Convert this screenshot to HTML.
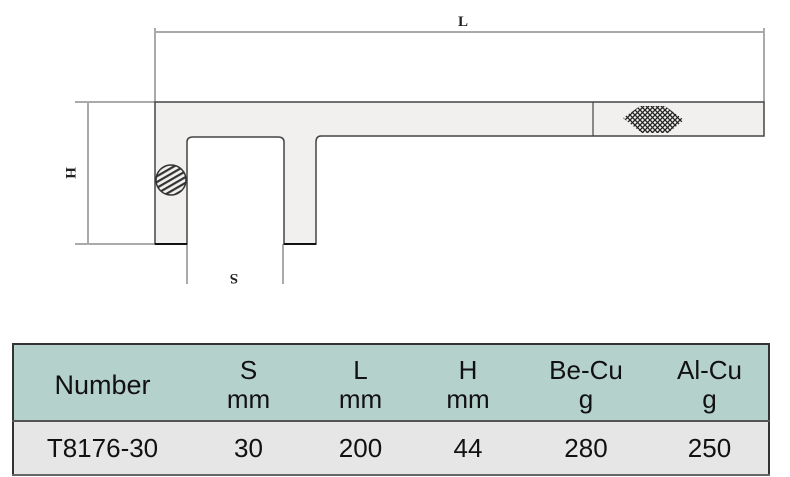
<!DOCTYPE html>
<html><head><style>
body{margin:0;background:#fff;width:790px;height:477px;overflow:hidden;font-family:"Liberation Sans",sans-serif}
table{position:absolute;left:12px;top:343px;width:756px;border-collapse:collapse;font-size:26px;color:#111;font-family:"Liberation Sans",sans-serif;table-layout:fixed}
td{text-align:center;padding:0;line-height:29px}
tr.h td{padding-top:5px}
</style></head><body>
<svg width="790" height="300" style="position:absolute;left:0;top:0" xmlns="http://www.w3.org/2000/svg">
<defs><pattern id="k" width="5" height="5" patternUnits="userSpaceOnUse"><path d="M0 0L5 5M5 0L0 5" stroke="#222" stroke-width="1.3"/></pattern>
<pattern id="h" width="5" height="5" patternUnits="userSpaceOnUse" patternTransform="rotate(-30)"><rect width="5" height="2.2" fill="#333"/></pattern></defs>
<g stroke="#555" stroke-width="1" fill="none">
<line x1="155" y1="28" x2="155" y2="102"/><line x1="764" y1="28" x2="764" y2="102"/>
<line x1="156" y1="32" x2="763" y2="32"/>
<line x1="75" y1="102" x2="155" y2="102"/><line x1="75" y1="244" x2="155" y2="244"/>
<line x1="88" y1="103" x2="88" y2="243"/>
<line x1="187" y1="244" x2="187" y2="284"/><line x1="283" y1="244" x2="283" y2="284"/>
</g>
<path d="M155 102H764V136H321Q316 136 316 142V244H284V142Q284 137 278 137H193Q187 137 187 142V244H155Z" fill="#f1f0ee" stroke="#444" stroke-width="1.5"/>
<line x1="593" y1="102" x2="593" y2="136" stroke="#444" stroke-width="1.2"/>
<polygon points="623,118 640,106 665,106 684,120 668,133 642,133" fill="url(#k)"/>
<circle cx="171" cy="180" r="15" fill="url(#h)" stroke="#333" stroke-width="1.5"/>
<line x1="155" y1="244" x2="187" y2="244" stroke="#111" stroke-width="2"/>
<line x1="284" y1="244" x2="316" y2="244" stroke="#111" stroke-width="2"/>
<text x="463" y="26" font-family="Liberation Serif" font-weight="bold" font-size="15" text-anchor="middle" fill="#222">L</text>
<text x="0" y="0" font-family="Liberation Serif" font-weight="bold" font-size="15" text-anchor="middle" fill="#222" transform="translate(66,173) rotate(90)">H</text>
<text x="0" y="0" font-family="Liberation Serif" font-weight="bold" font-size="15" text-anchor="middle" fill="#222" transform="translate(234,274) rotate(180)">S</text>
</svg>
<table>
<colgroup><col style="width:178px"><col style="width:115px"><col style="width:109px"><col style="width:106px"><col style="width:130px"><col style="width:118px"></colgroup>
<tr class="h" style="background:#b5d1cc;height:77px;border:2px solid #333;border-bottom:2px solid #555">
<td style="font-size:27px">Number</td><td>S<br>mm</td><td>L<br>mm</td><td>H<br>mm</td><td>Be-Cu<br>g</td><td>Al-Cu<br>g</td></tr>
<tr style="background:#e6e6e6;height:54px;border-left:2px solid #333;border-right:2px solid #333;border-bottom:2px solid #666">
<td>T8176-30</td><td>30</td><td>200</td><td>44</td><td>280</td><td>250</td></tr>
</table>
</body></html>
